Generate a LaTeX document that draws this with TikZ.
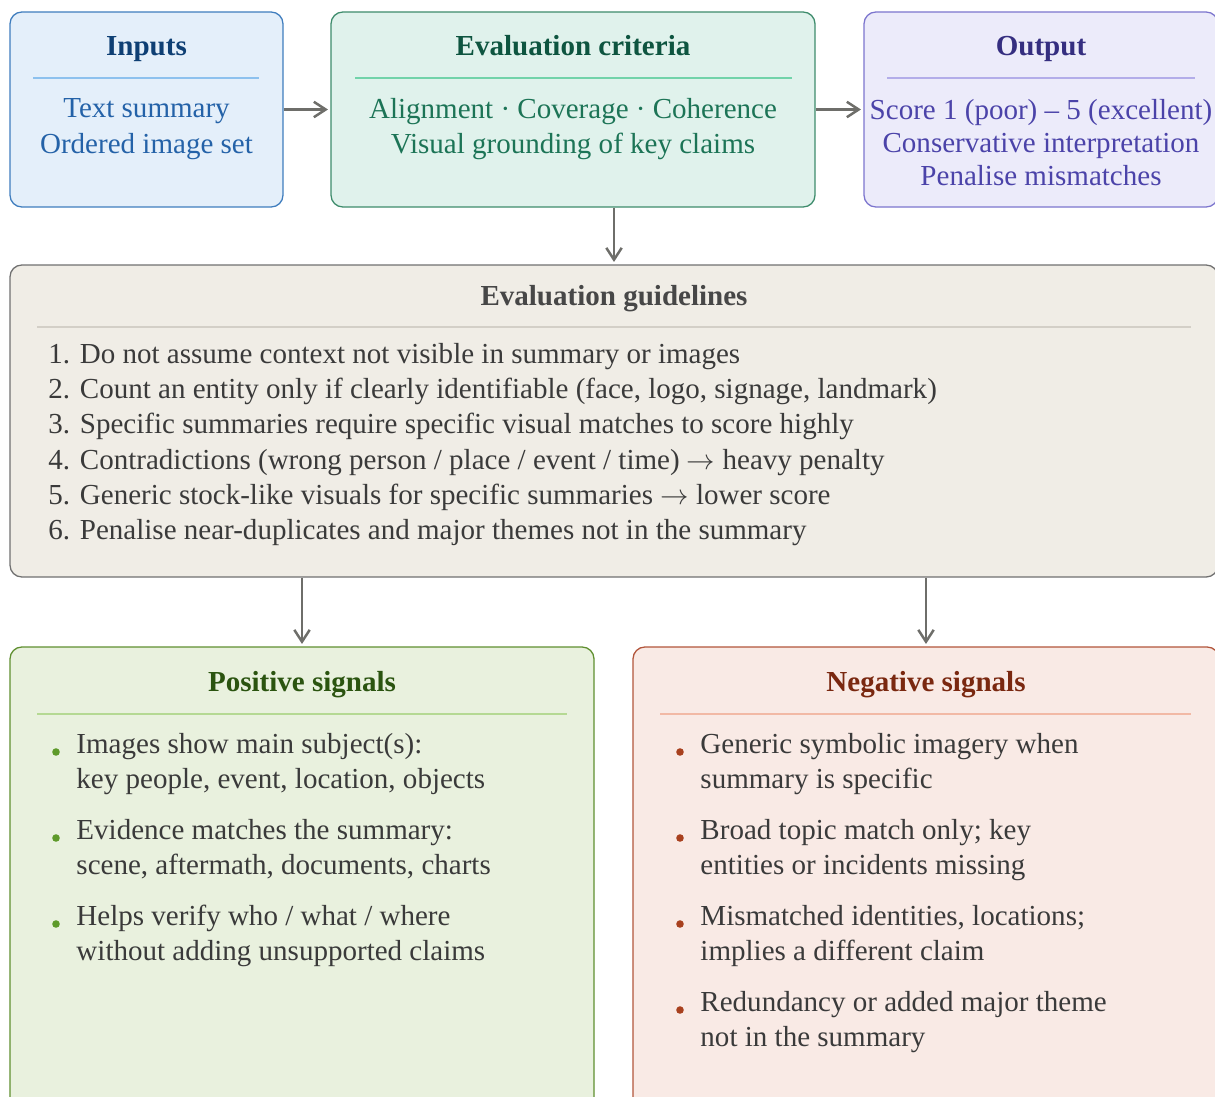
\documentclass[tikz,border=0pt]{standalone}
\usepackage{fontspec}
\setmainfont{Liberation Serif}
\usetikzlibrary{arrows.meta}

% Farben
\definecolor{inFill}{HTML}{E4EFFA}
\definecolor{inLine}{HTML}{3F7DBE}
\definecolor{inRule}{HTML}{8DC1EE}
\definecolor{inHead}{HTML}{0E3F74}
\definecolor{inText}{HTML}{2462A8}
\definecolor{crFill}{HTML}{E0F2EC}
\definecolor{crLine}{HTML}{3E8C6C}
\definecolor{crRule}{HTML}{72D3AA}
\definecolor{crHead}{HTML}{0E5540}
\definecolor{crText}{HTML}{1C7456}
\definecolor{ouFill}{HTML}{ECEBFA}
\definecolor{ouLine}{HTML}{7C75CE}
\definecolor{ouRule}{HTML}{B3ADE9}
\definecolor{ouHead}{HTML}{352E80}
\definecolor{ouText}{HTML}{4B43A9}
\definecolor{guFill}{HTML}{F0EDE6}
\definecolor{guLine}{HTML}{707070}
\definecolor{guRule}{HTML}{D3CFC7}
\definecolor{guHead}{HTML}{474747}
\definecolor{darkText}{HTML}{3A3A3A}
\definecolor{poFill}{HTML}{E9F1DE}
\definecolor{poLine}{HTML}{5F8F2F}
\definecolor{poRule}{HTML}{B5D993}
\definecolor{poHead}{HTML}{2B5410}
\definecolor{poDot}{HTML}{5E9A2A}
\definecolor{neFill}{HTML}{F9EAE5}
\definecolor{neLine}{HTML}{B2553B}
\definecolor{neRule}{HTML}{F2B9A5}
\definecolor{neHead}{HTML}{7A2810}
\definecolor{neDot}{HTML}{A8401E}
\definecolor{arrowGray}{HTML}{6E6E6A}

\begin{document}
\begin{tikzpicture}[
    x=0.422pt, y=-0.422pt,
    >={Straight Barb[length=5pt,width=6.5pt]}, % Pfeilspitze
    box/.style={draw, rounded corners=5pt, line width=0.55pt, inner sep=0pt},
    head/.style={font=\bfseries\fontsize{12.25}{14}\selectfont, text height=9pt, text depth=1pt},
    body/.style={font=\fontsize{12.25}{15}\selectfont, align=center},
    item/.style={anchor=west, inner sep=0pt, text=darkText, font=\fontsize{12.25}{14}\selectfont,
      text height=9pt, text depth=1pt},
    flow/.style={->, line width=1.05pt, arrowGray, shorten >=1pt},
    sep/.style={line width=0.45pt},
  ]
  \def\px{0.422pt}

  \useasboundingbox (0,0) rectangle (1215,1097);

  % Kästen
  \node[box, draw=inLine, fill=inFill, minimum width=273*\px, minimum height=195*\px] (In) at (146.5,109.5) {};
  \node[box, draw=crLine, fill=crFill, minimum width=484*\px, minimum height=195*\px] (Crit) at (573,109.5) {};
  \node[box, draw=ouLine, fill=ouFill, minimum width=354*\px, minimum height=195*\px] (Out) at (1041,109.5) {};
  \node[box, draw=guLine, fill=guFill, minimum width=1208*\px, minimum height=312*\px] (Guide) at (614,421) {};
  \node[box, draw=poLine, fill=poFill, minimum width=584*\px, minimum height=470*\px] (Pos) at (302,882) {};
  \node[box, draw=neLine, fill=neFill, minimum width=586*\px, minimum height=470*\px] (Neg) at (926,882) {};

  % Inputs
  \node[head, text=inHead] (InH) at (146.5,46) {Inputs};
  \draw[sep, inRule] (33,78) -- (259,78);
  \node[body, text=inText] (InB) at (146.5,129) {Text summary\\Ordered image set};

  % Kriterien
  \node[head, text=crHead] (CritH) at (573,46) {Evaluation criteria};
  \draw[sep, crRule] (355,78) -- (792,78);
  \node[body, text=crText] (CritB) at (573,129) {Alignment · Coverage · Coherence\\Visual grounding of key claims};

  % Ausgabe
  \node[head, text=ouHead] (OutH) at (1041,46) {Output};
  \draw[sep, ouRule] (887,78) -- (1195,78);
  \node[body, text=ouText, font=\fontsize{12.25}{13.8}\selectfont] (OutB) at (1041,142.5)
    {Score 1 (poor) -- 5 (excellent)\\Conservative interpretation\\Penalise mismatches};

  % Richtlinien
  \node[head, text=guHead] (GuideH) at (614,296) {Evaluation guidelines};
  \draw[sep, guRule] (37,327) -- (1191,327);
  \foreach \t [count=\i] in {
      {1. Do not assume context not visible in summary or images},
      {2. Count an entity only if clearly identifiable (face, logo, signage, landmark)},
      {3. Specific summaries require specific visual matches to score highly},
      {4. Contradictions (wrong person / place / event / time) $\rightarrow$ heavy penalty},
      {5. Generic stock-like visuals for specific summaries $\rightarrow$ lower score},
      {6. Penalise near-duplicates and major themes not in the summary}}
    \node[item] (g\i) at (48,{354+35.2*(\i-1)}) {\t};

  % Positive Signale
  \node[head, text=poHead] (PosH) at (302,682) {Positive signals};
  \draw[sep, poRule] (37,714) -- (567,714);
  \foreach \a/\b [count=\i] in {
      {Images show main subject(s):}/{key people, event, location, objects},
      {Evidence matches the summary:}/{scene, aftermath, documents, charts},
      {Helps verify who / what / where}/{without adding unsupported claims}}
  {
    \fill[poDot] (56,{752+86*(\i-1)}) circle[radius=1.6pt];
    \node[item] (pa\i) at (76,{744+86*(\i-1)}) {\a};
    \node[item] (pb\i) at (76,{779+86*(\i-1)}) {\b};
  }

  % Negative Signale
  \node[head, text=neHead] (NegH) at (926,682) {Negative signals};
  \draw[sep, neRule] (660,714) -- (1191,714);
  \foreach \a/\b [count=\i] in {
      {Generic symbolic imagery when}/{summary is specific},
      {Broad topic match only; key}/{entities or incidents missing},
      {Mismatched identities, locations;}/{implies a different claim},
      {Redundancy or added major theme}/{not in the summary}}
  {
    \fill[neDot] (680,{752+86*(\i-1)}) circle[radius=1.6pt];
    \node[item] (na\i) at (700,{744+86*(\i-1)}) {\a};
    \node[item] (nb\i) at (700,{779+86*(\i-1)}) {\b};
  }

  % Pfeile
  \draw[flow] (In) -- (Crit);
  \draw[flow] (Crit) -- (Out);
  \draw[flow] (Crit.south -| Guide.north) -- (Guide.north);
  \draw[flow] (Guide.south -| Pos.north) -- (Pos.north);
  \draw[flow] (Guide.south -| Neg.north) -- (Neg.north);
\end{tikzpicture}
\end{document}
